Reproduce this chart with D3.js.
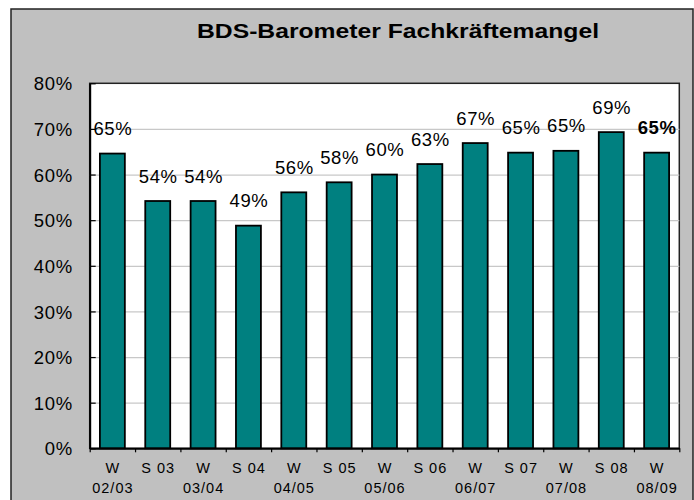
<!DOCTYPE html>
<html><head><meta charset="utf-8">
<script src="https://cdn.jsdelivr.net/npm/d3@7"></script>
<style>body{margin:0;background:#fff}svg{display:block}</style>
</head><body><svg id="c" width="694" height="500"></svg>
<script>
const title = "BDS-Barometer Fachkräftemangel";
const categories = ["W 02/03","S 03","W 03/04","S 04","W 04/05","S 05","W 05/06","S 06","W 06/07","S 07","W 07/08","S 08","W 08/09"];
const values = [64.6, 54.2, 54.2, 48.8, 56.1, 58.3, 60.0, 62.3, 66.9, 64.8, 65.2, 69.3, 64.8];
const valueLabels = ["65%","54%","54%","49%","56%","58%","60%","63%","67%","65%","65%","69%","65%"];
const yTicks = [0,10,20,30,40,50,60,70,80];

const FONT = "'Liberation Sans', Arial, Helvetica, sans-serif";
const svg = d3.select("#c");
const L = 89.7, R = 679.3, T = 83.3, B = 448.3;

// outer frame
svg.append("rect").attr("x",11).attr("y",9).attr("width",682).attr("height",500)
  .attr("fill","#c0c0c0").attr("stroke","#222").attr("stroke-width",1.5);

// title
svg.append("text").attr("x",197).attr("y",38.3)
  .attr("font-family",FONT).attr("font-size",20.5).attr("font-weight","bold")
  .attr("textLength",402).attr("lengthAdjust","spacingAndGlyphs")
  .attr("fill","#000").text(title);

const y = d3.scaleLinear().domain([0,80]).range([B,T]);
const x = d3.scaleBand().domain(categories).range([L,R]).paddingInner(0.45).paddingOuter(0.225);
const xb = d3.scaleLinear().domain([0,categories.length]).range([L,R]);

// plot area
svg.append("rect").attr("x",L).attr("y",T).attr("width",R-L).attr("height",B-T)
  .attr("fill","#fff").attr("stroke","#222").attr("stroke-width",1.5);

// gridlines
const grid = svg.append("g").attr("transform",`translate(${L},0)`)
  .call(d3.axisLeft(y).tickValues(yTicks.slice(1,-1)).tickSize(-(R-L)).tickFormat(""));
grid.select(".domain").remove();
grid.selectAll("line").attr("stroke","#c8c8c8").attr("stroke-width",1.2);

// bars
svg.append("g").selectAll("rect").data(values).join("rect")
  .attr("x",(d,i)=>x(categories[i]))
  .attr("y",d=>y(d))
  .attr("width",x.bandwidth())
  .attr("height",d=>y(0)-y(d))
  .attr("fill","#008080").attr("stroke","#000").attr("stroke-width",1.8);

// y axis
const ya = svg.append("g").attr("transform",`translate(${L},0)`)
  .call(d3.axisLeft(y).tickValues(yTicks).tickSizeInner(-6).tickSizeOuter(0).tickPadding(17).tickFormat(d=>d+"%"));
ya.select(".domain").attr("stroke","#000").attr("stroke-width",2);
ya.selectAll(".tick line").attr("stroke","#000").attr("stroke-width",1.2);
ya.selectAll("text").attr("font-family",FONT).attr("font-size",18.5).attr("letter-spacing",0.6)
  .attr("fill","#000").attr("dy","0.36em");

// x axis (boundary ticks)
const xa = svg.append("g").attr("transform",`translate(0,${B})`)
  .call(d3.axisBottom(xb).tickValues(d3.range(categories.length+1)).tickSizeInner(4).tickSizeOuter(0).tickFormat(""));
xa.select(".domain").attr("stroke","#000").attr("stroke-width",2);
xa.selectAll(".tick line").attr("stroke","#000").attr("stroke-width",1.2);

// x labels
const xl = svg.append("g");
categories.forEach((c,i)=>{
  const cx = x(c) + x.bandwidth()/2;
  const parts = c.startsWith("W ") ? ["W", c.slice(2)] : [c];
  parts.forEach((p,j)=>{
    xl.append("text").attr("x",cx+0.5).attr("y",472.7 + j*20)
      .attr("text-anchor","middle").attr("font-family",FONT).attr("font-size",14.5)
      .attr("letter-spacing",1).attr("fill","#000").text(p);
  });
});

// value labels
svg.append("g").selectAll("text").data(values).join("text")
  .attr("x",(d,i)=>x(categories[i]) + x.bandwidth()/2 + 0.5)
  .attr("y",d=>y(d)-18.5)
  .attr("text-anchor","middle").attr("font-family",FONT).attr("font-size",18.5)
  .attr("letter-spacing",0.6)
  .attr("font-weight",(d,i)=>i===values.length-1?"bold":"normal")
  .attr("fill","#000").text((d,i)=>valueLabels[i]);
</script></body></html>
